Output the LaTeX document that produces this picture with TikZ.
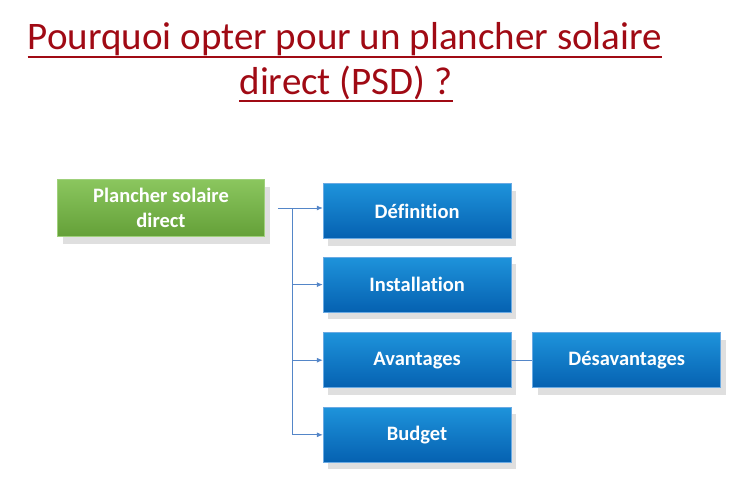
\documentclass[tikz,border=0pt]{standalone}
\usepackage{fontspec}
\setmainfont{Carlito}[Ligatures=NoCommon]
\usetikzlibrary{positioning}
\usetikzlibrary{shadows}
\usetikzlibrary{arrows.meta}
\definecolor{titlered}{RGB}{160,10,20}
\definecolor{linkblue}{RGB}{84,134,200}
\definecolor{boxblue}{RGB}{6,114,208}
\definecolor{boxgreen}{RGB}{118,188,66}
\tikzset{
    solar diagram/.style={
            x=1pt,y=-1pt,
            node distance=20pt,
            box/.style={minimum width=188pt,minimum height=55pt,inner sep=0pt,
                    text=white,font=\fontsize{20.5}{25}\selectfont\bfseries,align=center,
                    top color=boxblue!85!cyan!90!white,bottom color=boxblue!85!black,
                    draw=boxblue!60!white,line width=0.6pt,
                    drop shadow={shadow xshift=5pt,shadow yshift=-7pt,opacity=0.25}},
            mainbox/.style={box,minimum width=207pt,minimum height=57pt,
                    top color=boxgreen!85!white,bottom color=boxgreen!85!black,
                    draw=boxgreen!70!white},
            title/.style={inner sep=0pt,text=titlered,font=\fontsize{39}{46}\selectfont},
            link/.style={draw=linkblue,line width=0.8pt},
            arrow/.style={link,-{Latex[length=6pt,width=5pt]}}
        }
    }
\begin{document}
\begin{tikzpicture}[solar diagram]
        \useasboundingbox (0,0) rectangle (754,501);
        % title
        \node (t1) [title,anchor=base] at (345,49) {Pourquoi opter pour un plancher solaire};
        \node (t2) [title,anchor=base] at (346,94) {direct (PSD) ?};
        \draw [titlered,line width=2.6pt] ([yshift=-8pt]t1.base west) -- ([yshift=-8pt]t1.base east);
        \draw [titlered,line width=2.6pt] ([yshift=-7pt]t2.base west) -- ([yshift=-7pt]t2.base east);
        % boxes
        \node (psd) [mainbox] at (161,208) {Plancher solaire\\direct};
        \node (def) [box,right=58pt of psd,yshift=-3pt] {Définition};
        \node (inst) [box,below=18pt of def] {Installation};
        \node (avant) [box,below=20pt of inst] {Avantages};
        \node (budget) [box,below=19pt of avant] {Budget};
        \node (desav) [box,right=21pt of avant] {Désavantages};
        % connectors
        \coordinate (trunk) at ([xshift=28pt]psd.east);
        \draw [link] ([xshift=13pt]psd.east) -- (trunk) -- (trunk |- budget.west);
        \draw [arrow] (trunk) -- (trunk -| def.west);
        \draw [arrow] (trunk |- inst.west) -- (inst.west);
        \draw [arrow] (trunk |- avant.west) -- (avant.west);
        \draw [arrow] (trunk |- budget.west) -- (budget.west);
        \draw [link] (avant.east) -- (desav.west);
    \end{tikzpicture}
\end{document}
